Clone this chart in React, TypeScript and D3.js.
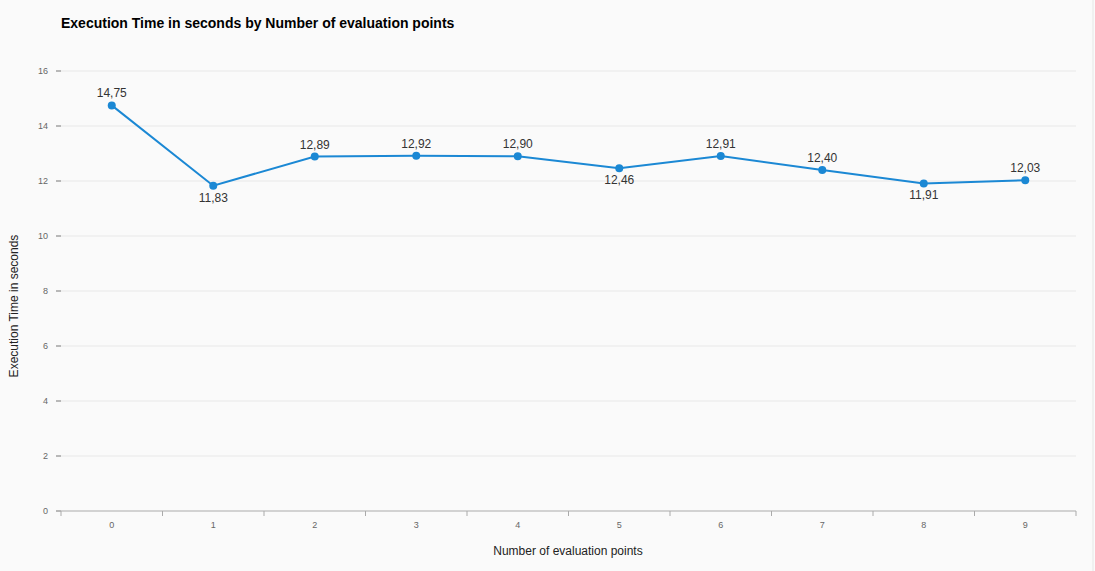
import React from "react";
import * as d3 from "d3";

const categories = ["0", "1", "2", "3", "4", "5", "6", "7", "8", "9"];
const values = [14.75, 11.83, 12.89, 12.92, 12.9, 12.46, 12.91, 12.4, 11.91, 12.03];
const labelBelow = [false, true, false, false, false, true, false, false, true, false];
const yTicks = [0, 2, 4, 6, 8, 10, 12, 14, 16];

const W = 1095;
const H = 571;
const m = { left: 61, right: 1076, top: 71, bottom: 511 };

export default function App() {
  const x = d3.scaleBand().domain(categories).range([m.left, m.right]);
  const y = d3.scaleLinear().domain([0, 16]).range([m.bottom, m.top]);
  const cx = (i: number) => (x(categories[i]) as number) + x.bandwidth() / 2;
  const line = d3
    .line<number>()
    .x((_, i) => cx(i))
    .y((d) => y(d));
  const font = "Arial, 'Liberation Sans', sans-serif";

  return (
    <div style={{ position: "fixed", left: 0, top: 0 }}>
      <svg width={W} height={H} style={{ display: "block", background: "#fafafa", fontFamily: font }}>
        <line x1={W - 2} x2={W - 2} y1={0} y2={H} stroke="#e6e6e6" />
        <text x={61} y={28} fontSize={14} fontWeight="bold" fill="#000">
          Execution Time in seconds by Number of evaluation points
        </text>
        {yTicks.map((t) => (
          <g key={t}>
            {t > 0 && <line x1={m.left} x2={m.right} y1={y(t)} y2={y(t)} stroke="#e8e8e8" />}
            <line x1={56} x2={61} y1={y(t)} y2={y(t)} stroke="#777" />
            <text x={48} y={y(t) + 3} fontSize={9} fill="#666" textAnchor="end">
              {t}
            </text>
          </g>
        ))}
        <line x1={m.left} x2={m.right} y1={m.bottom} y2={m.bottom} stroke="#aaa" />
        {[...categories.map((c) => x(c) as number), m.right].map((p, i) => (
          <line key={i} x1={p} x2={p} y1={m.bottom} y2={m.bottom + 5} stroke="#aaa" />
        ))}
        {categories.map((c, i) => (
          <text key={c} x={cx(i)} y={m.bottom + 17} fontSize={9} fill="#666" textAnchor="middle">
            {c}
          </text>
        ))}
        <text x={568} y={555} fontSize={12} fill="#222" textAnchor="middle">
          Number of evaluation points
        </text>
        <text
          transform={`translate(18,${(m.top + m.bottom) / 2 + 15}) rotate(-90)`}
          fontSize={12}
          fill="#222"
          textAnchor="middle"
        >
          Execution Time in seconds
        </text>
        <path d={line(values) || ""} fill="none" stroke="#1b88d4" strokeWidth={2} />
        {values.map((v, i) => (
          <g key={i}>
            <circle cx={cx(i)} cy={y(v)} r={4} fill="#1b88d4" />
            <text
              x={cx(i)}
              y={labelBelow[i] ? y(v) + 16 : y(v) - 8}
              fontSize={12}
              fill="#333"
              textAnchor="middle"
            >
              {v.toFixed(2).replace(".", ",")}
            </text>
          </g>
        ))}
      </svg>
    </div>
  );
}
